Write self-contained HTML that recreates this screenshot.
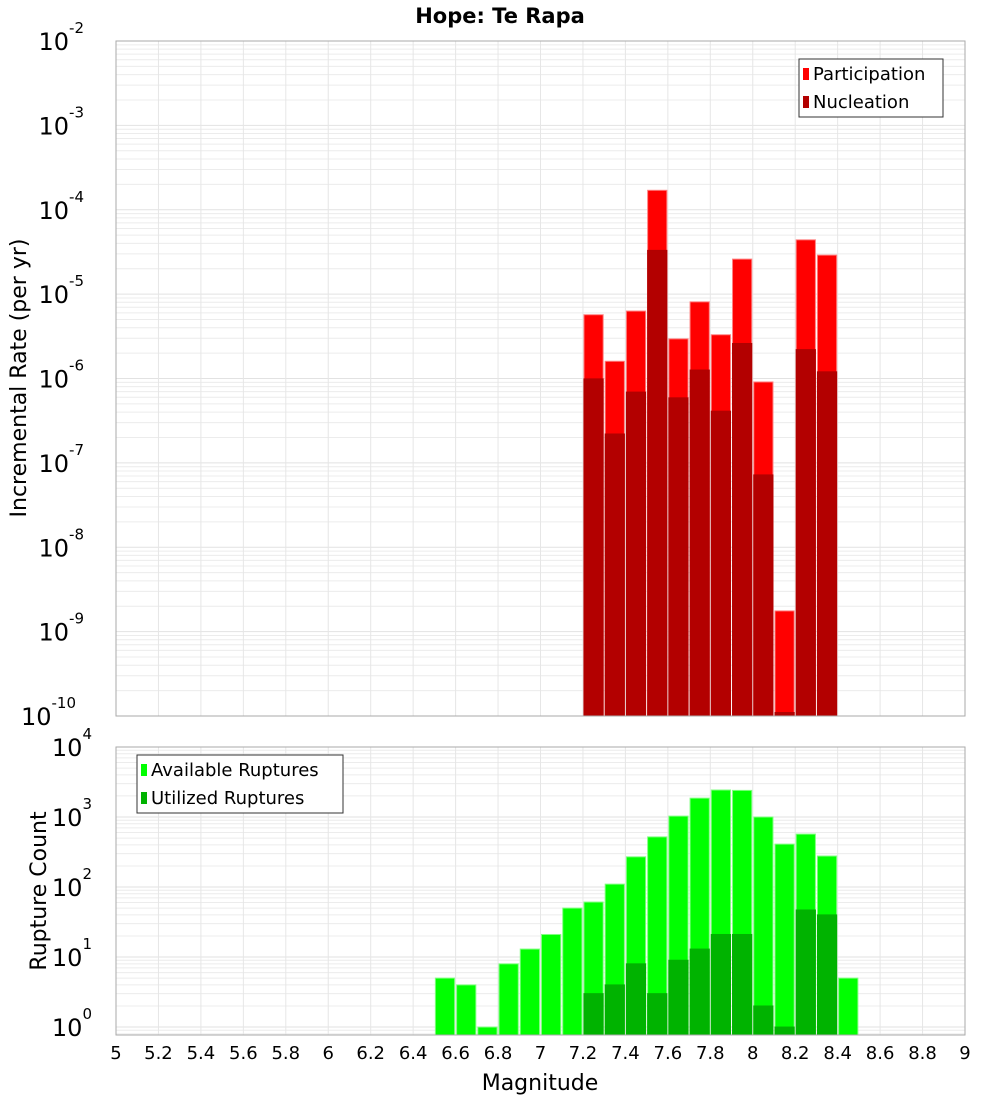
<!DOCTYPE html>
<html><head><meta charset="utf-8"><style>
body{margin:0;background:#fff}
svg{font-family:"DejaVu Sans","Liberation Sans",sans-serif}
</style></head><body>
<svg id="c" width="1000" height="1100" xmlns="http://www.w3.org/2000/svg"></svg>
<script>
const mags = [6.55,6.65,6.75,6.85,6.95,7.05,7.15,7.25,7.35,7.45,7.55,7.65,7.75,7.85,7.95,8.05,8.15,8.25,8.35,8.45];
const rateMags = [7.25,7.35,7.45,7.55,7.65,7.75,7.85,7.95,8.05,8.15,8.25,8.35];
const participation = [5.7e-6,1.6e-6,6.3e-6,1.7e-4,2.95e-6,8.1e-6,3.3e-6,2.6e-5,9.1e-7,1.76e-9,4.4e-5,2.9e-5];
const nucleation = [9.9e-7,2.2e-7,6.9e-7,3.3e-5,5.9e-7,1.26e-6,4.1e-7,2.6e-6,7.2e-8,1.1e-10,2.2e-6,1.2e-6];
const available = [5,4,1,8,13,21,50,61,110,270,520,1030,1860,2430,2400,1000,410,570,277,5];
const utilizedMags = [7.25,7.35,7.45,7.55,7.65,7.75,7.85,7.95,8.05,8.15,8.25,8.35];
const utilized = [3,4,8,3,9,13,21,21,2,1,47,40];
const xTicks = [5,5.2,5.4,5.6,5.8,6,6.2,6.4,6.6,6.8,7,7.2,7.4,7.6,7.8,8,8.2,8.4,8.6,8.8,9];
const topExps = [-2,-3,-4,-5,-6,-7,-8,-9,-10];
const botExps = [4,3,2,1,0];

const svg=document.getElementById('c');const NS='http://www.w3.org/2000/svg';
function mk(t,a,p){const e=document.createElementNS(NS,t);for(const k in a)e.setAttribute(k,a[k]);(p||svg).appendChild(e);return e;}
const X0=116,X1=965;
const x=m=>X0+(m-5)/4*(X1-X0);
const T0=41,T1=716;
const yT=v=>T0+(-2-Math.log10(v))/8*(T1-T0);
const B0=747,B1=1035,Bmin=Math.log10(0.77);
const yB=v=>B0+(4-Math.log10(v))/(4-Bmin)*(B1-B0);

function panel(top,bot,yf,lo,hi,name){
  const g=mk('g',{});
  
  for(let e=lo;e<hi;e++)for(let k=1;k<10;k++){const v=k*Math.pow(10,e);const yy=yf(v);if(yy<top||yy>bot)continue;
    mk('line',{x1:X0,x2:X1,y1:yy,y2:yy,stroke:k==1?'#e2e2e2':'#ececec','stroke-width':1},g);}
  xTicks.forEach(t=>mk('line',{x1:x(t),x2:x(t),y1:top,y2:bot,stroke:'#e6e6e6'},g));
}
panel(T0,T1,yT,-10,-2,'top');panel(B0,B1,yB,-1,4,'bottom');

function bars(ms,vs,yf,base,fill,stroke,name){
  const w=(X1-X0)/40;
  ms.forEach((m,i)=>{const yy=yf(vs[i]);const r=mk('rect',{x:x(m)-w/2+1,y:yy,width:w-2,height:base-yy,fill:fill,stroke:stroke,'stroke-width':1});
    });
}
bars(rateMags,participation,yT,T1,'#ff0000','#ff8080','participation');
bars(rateMags,nucleation,yT,T1,'#b30000','#b30000','nucleation');
bars(mags,available,yB,B1,'#00ff00','#80ff80','available');
bars(utilizedMags,utilized,yB,B1,'#00b300','#00b300','utilized');

mk('rect',{x:X0,y:T0,width:X1-X0,height:T1-T0,fill:'none',stroke:'#aaa'});
mk('rect',{x:X0,y:B0,width:X1-X0,height:B1-B0,fill:'none',stroke:'#aaa'});

function ylab(exps,yf,name){exps.forEach(e=>{const yy=yf(Math.pow(10,e));
  const t=mk('text',{x:107,y:yy+9,'text-anchor':'end','font-size':24,fill:'#000'});
  
  t.textContent='10';const s=mk('tspan',{dy:-17,'font-size':15},t);s.textContent=String(e);
  t.setAttribute('x',100-String(e).length*8);t.setAttribute('text-anchor','end');});}
ylab(topExps,yT,'top-y');ylab(botExps,yB,'bottom-y');

xTicks.forEach(t=>{const e=mk('text',{x:x(t),y:1059,'text-anchor':'middle','font-size':18});e.textContent=String(t);
  });

function txt(s,a,name){const e=mk('text',a);e.textContent=s;return e;}
txt('Hope: Te Rapa',{x:500,y:23,'text-anchor':'middle','font-size':21,'font-weight':'bold'},'chart-title');
txt('Magnitude',{x:540,y:1090,'text-anchor':'middle','font-size':22},'x-axis-title');
txt('Incremental Rate (per yr)',{x:0,y:0,'text-anchor':'middle','font-size':22,transform:'translate(26,378) rotate(-90)'},'top-y-axis-title');
txt('Rupture Count',{x:0,y:0,'text-anchor':'middle','font-size':22,transform:'translate(46,891) rotate(-90)'},'bottom-y-axis-title');

function legend(bx,by,w,items,name){
  const g=mk('g',{});
  mk('rect',{x:bx,y:by,width:w,height:58,fill:'#fff',stroke:'#333'},g);
  items.forEach((it,i)=>{mk('rect',{x:bx+4,y:by+9+i*28,width:6,height:12,fill:it[1]},g);
    const t=mk('text',{x:bx+14,y:by+21+i*28,'font-size':18},g);t.textContent=it[0];});
}
legend(799,59,144,[['Participation','#ff0000'],['Nucleation','#b30000']],'top-legend');
legend(137,755,206,[['Available Ruptures','#00ff00'],['Utilized Ruptures','#00b300']],'bottom-legend');
</script>
</body></html>
